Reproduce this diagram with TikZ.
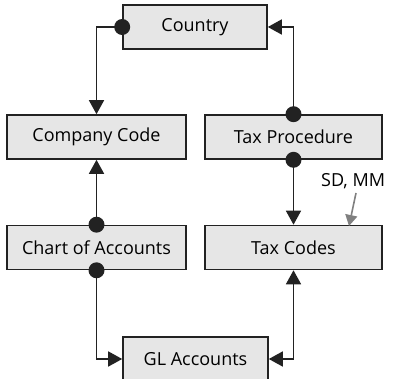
\documentclass[tikz,border=0pt]{standalone}
\usepackage{fontspec}
\setmainfont{Open Sans}
\usetikzlibrary{arrows.meta}
\definecolor{boxfill}{HTML}{E6E6E6}
\definecolor{boxline}{HTML}{222222}
\definecolor{hintgray}{HTML}{808080}
\tikzset{
  entity/.style={draw=boxline, line width=1.6pt, fill=boxfill, minimum height=44pt,
    inner sep=0pt, font=\fontsize{18}{21}\selectfont},
  link/.style={draw=boxline, line width=1.6pt, -{Triangle[width=15pt,length=14pt]}},
  biglink/.style={link, {Triangle[width=15pt,length=14pt]}-{Triangle[width=15pt,length=14pt]}},
  hint/.style={draw=hintgray, line width=1.6pt, -{Triangle[width=12pt,length=11pt]}},
  dot/.style={fill=boxline}
}
\begin{document}
\begin{tikzpicture}[x=1pt,y=-1pt]
\useasboundingbox (0,0) rectangle (394,379);
% entity boxes
\node[entity, minimum width=144pt] (country) at (195,27) {Country};
\node[entity, minimum width=179pt] (cc) at (96.5,137) {Company Code};
\node[entity, minimum width=177pt] (tp) at (293.5,137) {Tax Procedure};
\node[entity, minimum width=179pt] (coa) at (96.5,247.5) {Chart of Accounts};
\node[entity, minimum width=177pt] (tc) at (293.5,247.5) {Tax Codes};
\node[entity, minimum width=145pt] (gl) at (195.5,359) {GL Accounts};
% connectors
\draw[link] (country.west) -| (cc.north);
\draw[link] (tp.north) |- (country.east);
\draw[link] (coa.north) -- (cc.south);
\draw[link] (tp.south) -- (tc.north);
\draw[link] (coa.south) |- (gl.west);
\draw[biglink] (gl.east) -| (tc.south);
% origin dots
\fill[dot] (country.west) circle (8pt);
\fill[dot] (tp.north) circle (8pt);
\fill[dot] (tp.south) circle (8pt);
\fill[dot] (coa.north) circle (8pt);
\fill[dot] (coa.south) circle (8pt);
% annotation
\node[font=\fontsize{18}{21}\selectfont, anchor=west, inner sep=0pt] (sdmm) at (321,181) {SD, MM};
\coordinate (sdfrom) at (356,193);
\coordinate (sdto) at (349,226);
\draw[hint] (sdfrom) -- (sdto);
\end{tikzpicture}
\end{document}
